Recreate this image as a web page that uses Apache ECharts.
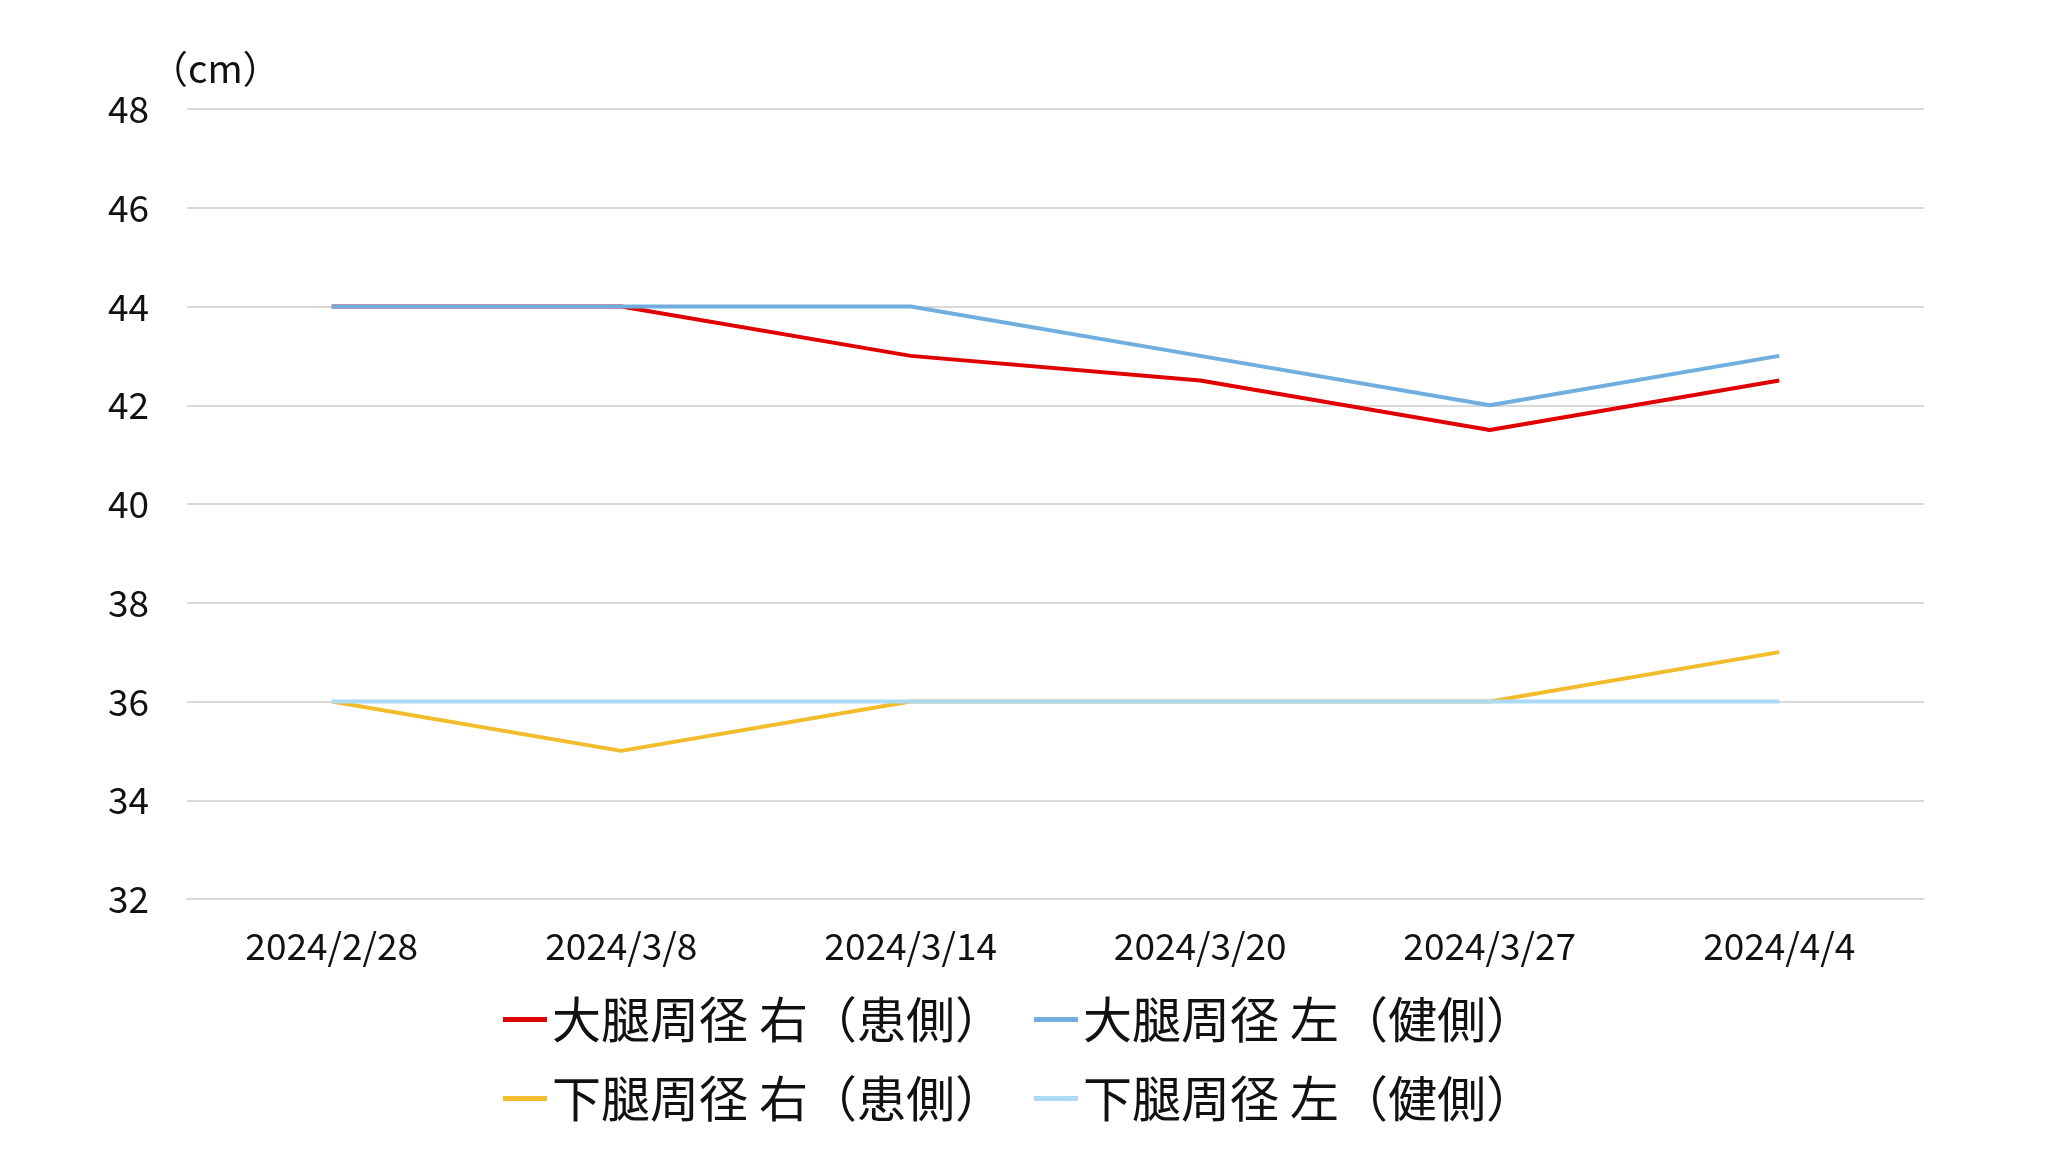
<!DOCTYPE html>
<html><head><meta charset="utf-8">
<script src="https://cdn.jsdelivr.net/npm/echarts@6/dist/echarts.min.js"></script>
<style>html,body{margin:0;padding:0;background:#fff}#c{width:2048px;height:1152px}</style>
</head><body><div id="c"></div>
<script>
const categories = ['2024/2/28','2024/3/8','2024/3/14','2024/3/20','2024/3/27','2024/4/4'];
const thighRight = [44, 44, 43, 42.5, 41.5, 42.5];
const thighLeft = [44, 44, 44, 43, 42, 43];
const calfRight = [36, 35, 36, 36, 36, 37];
const calfLeft = [36, 36, 36, 36, 36, 36];
const seriesNames = ['大腿周径 右（患側）','大腿周径 左（健側）','下腿周径 右（患側）','下腿周径 左（健側）'];
const colors = ['#E00000','#6FAEDE','#F2BC2C','#AADAF6'];
const FONT = '"Noto Sans CJK JP", "Noto Sans", sans-serif';
const chart = echarts.init(document.getElementById('c'));
const mk = (i, d) => ({name: seriesNames[i], type:'line', data:d, symbol:'none',
  lineStyle:{color:colors[i], width:4}, itemStyle:{color:colors[i]}, animation:false});
const legendBase = {orient:'horizontal', itemWidth:44, itemHeight:5, icon:'rect', itemGap:30,
  textStyle:{fontFamily:FONT, fontSize:49, color:'#111'}};
chart.setOption({
  animation:false,
  textStyle:{fontFamily:FONT},
  grid:{left:187, right:124, top:109, bottom:253, containLabel:false},
  graphic:[{type:'text', left:150, top:50, style:{text:'（cm）', font:'38px '+FONT, fill:'#111'}}],
  legend:[
    Object.assign({left:498, top:990, data:[seriesNames[0], seriesNames[1]]}, legendBase),
    Object.assign({left:498, top:1069, data:[seriesNames[2], seriesNames[3]]}, legendBase)
  ],
  xAxis:{type:'category', data:categories, boundaryGap:true,
    axisLine:{lineStyle:{color:'#D9D9D9', width:2}}, axisTick:{show:false},
    axisLabel:{fontSize:37, color:'#111', margin:28, fontFamily:FONT}},
  yAxis:{type:'value', min:32, max:48, interval:2,
    axisLine:{show:false}, axisTick:{show:false},
    splitLine:{lineStyle:{color:'#D9D9D9', width:2}},
    axisLabel:{fontSize:37, color:'#111', margin:38, fontFamily:FONT, padding:[0,0,8,0]}},
  series:[mk(0, thighRight), mk(1, thighLeft), mk(2, calfRight), mk(3, calfLeft)]
});
</script></body></html>
